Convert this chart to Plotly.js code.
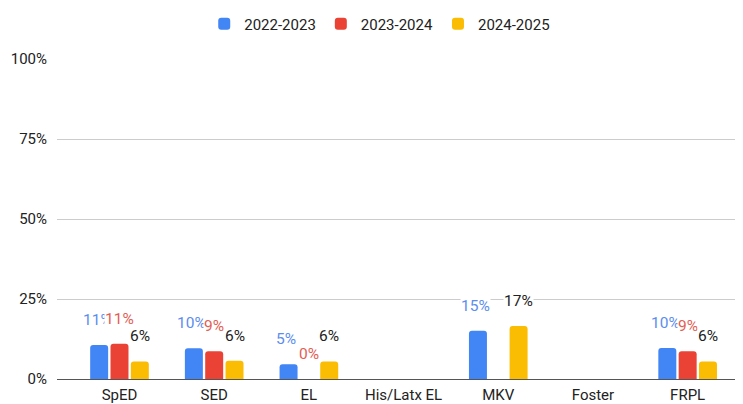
<!DOCTYPE html>
<html>
<head>
<meta charset="utf-8">
<script src="https://cdn.plot.ly/plotly-3.0.1.min.js"></script>
<style>html,body{margin:0;padding:0;background:#fff;}#chart{width:743px;height:404px;}</style>
</head>
<body>
<div id="chart"></div>
<script>
const categories = ["SpED", "SED", "EL", "His/Latx EL", "MKV", "Foster", "FRPL"];
const seriesNames = ["2022-2023", "2023-2024", "2024-2025"];
const v2022 = [10.6, 9.6, 4.6, null, 15.1, null, 9.7];
const v2023 = [11.0, 8.7, 0, null, null, null, 8.7];
const v2024 = [5.5, 5.7, 5.5, null, 16.6, null, 5.5];
const yTickVals = [0, 25, 50, 75, 100];
const yTickText = ["0%", "25%", "50%", "75%", "100%"];

const barColors = ["#4285f4", "#ea4335", "#fbbc04"];
const labelColors = ["#5b8def", "#e35d52", "#222222"];
const labelShift = [-22.4, 0, 20.4];
const allSeries = [v2022, v2023, v2024];

const traces = allSeries.map((vals, i) => ({
  type: "bar",
  name: seriesNames[i],
  x: categories,
  y: vals,
  marker: { color: barColors[i], cornerradius: 3 },
  hoverinfo: "none"
}));

const annotations = [];
allSeries.forEach((vals, i) => {
  vals.forEach((v, j) => {
    if (v === null) return;
    annotations.push({
      x: categories[j], y: v, xref: "x", yref: "y",
      text: Math.round(v) + "%",
      showarrow: false,
      xanchor: "center", yanchor: "middle",
      xshift: labelShift[i], yshift: 25,
      bgcolor: "rgba(255,255,255,1)", borderpad: 0,
      font: { family: "Roboto", size: 15.5, color: labelColors[i] }
    });
  });
});

const layout = {
  width: 743, height: 404,
  margin: { l: 57, r: 8, t: 57, b: 25 },
  paper_bgcolor: "#ffffff", plot_bgcolor: "#ffffff",
  font: { family: "Roboto", size: 14, color: "#222222" },
  barmode: "group",
  bargap: 0.356,
  bargroupgap: 0.115,
  showlegend: true,
  legend: {
    orientation: "h", x: 0.476, xanchor: "center", y: 1.109, yanchor: "middle",
    font: { family: "Roboto", size: 15, color: "#222222" },
    traceorder: "normal"
  },
  xaxis: {
    type: "category",
    range: [-0.66, 6.5],
    showgrid: false,
    showline: true, linecolor: "#555555", linewidth: 1.3,
    ticks: "", ticklabelstandoff: 2,
    tickfont: { family: "Roboto", size: 15, color: "#222222" },
    fixedrange: true
  },
  yaxis: {
    range: [0, 100],
    tickvals: yTickVals, ticktext: yTickText,
    showgrid: true, gridcolor: "#cccccc", gridwidth: 1,
    zeroline: false, showline: false,
    ticks: "", ticklabelstandoff: 9,
    tickfont: { family: "Roboto", size: 15, color: "#222222" },
    fixedrange: true
  },
  annotations: annotations
};

Plotly.newPlot("chart", traces, layout, { displayModeBar: false, staticPlot: true });
</script>
</body>
</html>
